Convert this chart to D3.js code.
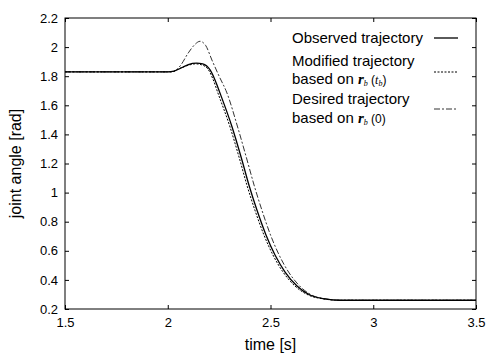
<!DOCTYPE html>
<html><head><meta charset="utf-8">
<script src="https://cdn.jsdelivr.net/npm/d3@7"></script>
<style>body{margin:0;background:#fff}svg{display:block}text{font-family:"Liberation Sans",Arial,sans-serif;fill:#000}</style>
</head><body><svg id="c" width="489" height="357"></svg>
<script>
const xTicks=[1.5,2,2.5,3,3.5];
const yTicks=[0.2,0.4,0.6,0.8,1,1.2,1.4,1.6,1.8,2,2.2];
const observedT=[1.5,2.0,2.03,2.07,2.1,2.14,2.17,2.206,2.23,2.254,2.313,2.361,2.395,2.434,2.478,2.522,2.571,2.629,2.692,2.765,2.838,3.5];
const observedV=[1.83,1.83,1.835,1.86,1.88,1.89,1.885,1.843,1.774,1.685,1.451,1.224,1.052,0.88,0.709,0.571,0.454,0.358,0.296,0.269,0.26,0.26];
const modifiedT=[1.5,2.02,2.06,2.1,2.135,2.165,2.195,2.22,2.244,2.303,2.351,2.385,2.424,2.468,2.512,2.561,2.619,2.684,2.76,2.835,3.5];
const modifiedV=[1.83,1.83,1.855,1.875,1.885,1.878,1.85,1.78,1.685,1.451,1.224,1.052,0.88,0.709,0.571,0.454,0.358,0.296,0.269,0.26,0.26];
const desiredT=[1.5,2.02,2.06,2.1,2.13,2.157,2.185,2.215,2.25,2.288,2.34,2.386,2.42,2.458,2.5,2.542,2.588,2.642,2.70,2.77,2.84,3.5];
const desiredV=[1.83,1.83,1.87,1.96,2.015,2.04,2.01,1.911,1.80,1.685,1.451,1.224,1.052,0.88,0.709,0.571,0.454,0.358,0.296,0.269,0.26,0.26];

const svg=d3.select("#c");
const L=65,R=476,T=18,B=309;
const x=d3.scaleLinear().domain([1.5,3.5]).range([L,R]);
const y=d3.scaleLinear().domain([0.2,2.2]).range([B,T]);

const g=svg.append("g");
g.append("g").attr("transform",`translate(0,${B})`).call(d3.axisBottom(x).tickValues(xTicks).tickSize(-4).tickPadding(9).tickFormat(d3.format("")));
g.append("g").attr("transform",`translate(0,${T})`).call(d3.axisTop(x).tickValues(xTicks).tickSize(-4).tickFormat(""));
g.append("g").attr("transform",`translate(${L},0)`).call(d3.axisLeft(y).tickValues(yTicks).tickSize(-4).tickPadding(7).tickFormat(d3.format("")));
g.append("g").attr("transform",`translate(${R},0)`).call(d3.axisRight(y).tickValues(yTicks).tickSize(-4).tickFormat(""));
g.selectAll(".domain").remove();
g.selectAll(".tick line").attr("stroke","#000");
g.selectAll(".tick text").style("font-size","13px").attr("fill","#000");
svg.append("rect").attr("x",L).attr("y",T).attr("width",R-L).attr("height",B-T).attr("fill","none").attr("stroke","#000").attr("stroke-width",1);

const line=d3.line().x(d=>x(d[0])).y(d=>y(d[1])).curve(d3.curveMonotoneX);
const z=(a,b)=>a.map((t,i)=>[t,b[i]]);
svg.append("path").datum(z(desiredT,desiredV)).attr("d",line).attr("fill","none").attr("stroke","#333").attr("stroke-width",1).attr("stroke-dasharray","6,2,2,2");
svg.append("path").datum(z(modifiedT,modifiedV)).attr("d",line).attr("fill","none").attr("stroke","#000").attr("stroke-width",1).attr("stroke-dasharray","2,1.5");
svg.append("path").datum(z(observedT,observedV)).attr("d",line).attr("fill","none").attr("stroke","#000").attr("stroke-width",1.3);

// axis titles
svg.append("text").attr("x",(L+R)/2).attr("y",350).attr("text-anchor","middle").style("font-size","16px").text("time [s]");
svg.append("text").attr("transform",`translate(21,${(T+B)/2}) rotate(-90)`).attr("text-anchor","middle").style("font-size","16px").text("joint angle [rad]");

// legend
const lg=svg.append("g").style("font-size","15px");
lg.append("text").attr("x",292).attr("y",43).text("Observed trajectory");
lg.append("line").attr("x1",434).attr("x2",458).attr("y1",38).attr("y2",38).attr("stroke","#000").attr("stroke-width",1.3);
lg.append("text").attr("x",292).attr("y",66).text("Modified trajectory");
const t2=lg.append("text").attr("x",292).attr("y",84);
t2.append("tspan").text("based on ");
t2.append("tspan").attr("font-family","Liberation Serif,serif").attr("font-style","italic").attr("font-weight","bold").text("r");
t2.append("tspan").attr("font-family","Liberation Serif,serif").attr("font-style","italic").style("font-size","8px").attr("dy",2).text("b");
t2.append("tspan").attr("dy",-2).style("font-size","12px").text(" (");
t2.append("tspan").attr("font-family","Liberation Serif,serif").attr("font-style","italic").style("font-size","12px").text("t");
t2.append("tspan").attr("font-family","Liberation Serif,serif").attr("font-style","italic").style("font-size","8px").attr("dy",2).text("b");
t2.append("tspan").attr("dy",-2).style("font-size","12px").text(")");
lg.append("line").attr("x1",434).attr("x2",458).attr("y1",72).attr("y2",72).attr("stroke","#000").attr("stroke-width",1).attr("stroke-dasharray","2,1.5");
lg.append("text").attr("x",292).attr("y",104).text("Desired trajectory");
const t3=lg.append("text").attr("x",292).attr("y",123);
t3.append("tspan").text("based on ");
t3.append("tspan").attr("font-family","Liberation Serif,serif").attr("font-style","italic").attr("font-weight","bold").text("r");
t3.append("tspan").attr("font-family","Liberation Serif,serif").attr("font-style","italic").style("font-size","8px").attr("dy",2).text("b");
t3.append("tspan").attr("dy",-2).style("font-size","12px").text(" (0)");
lg.append("line").attr("x1",434).attr("x2",458).attr("y1",109).attr("y2",109).attr("stroke","#333").attr("stroke-width",1).attr("stroke-dasharray","6,2,2,2");
</script></body></html>
